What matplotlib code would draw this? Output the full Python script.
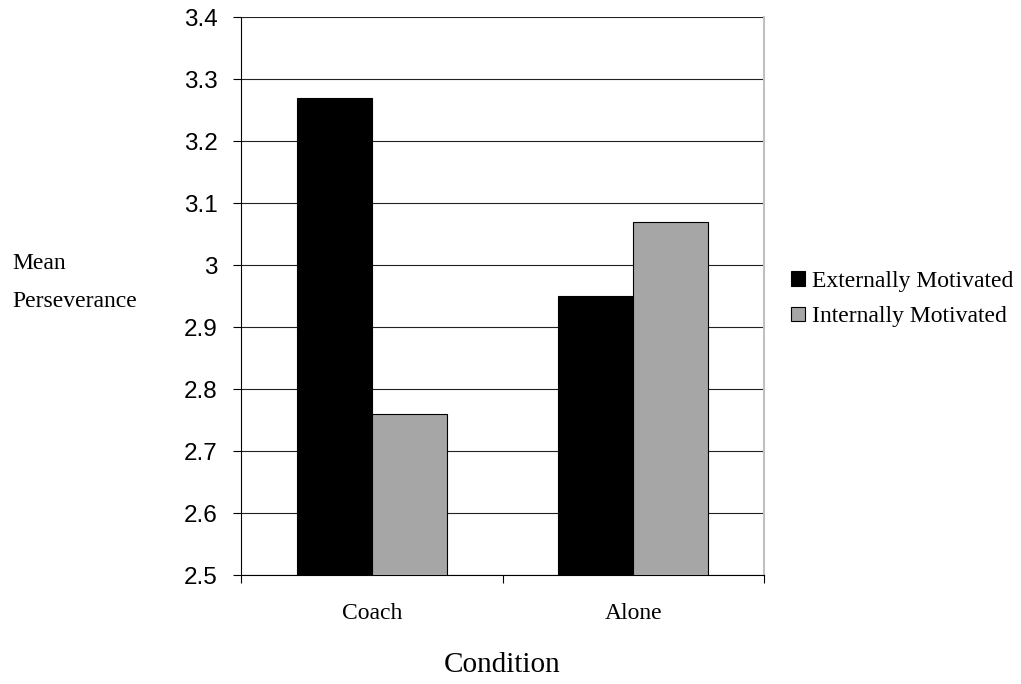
import numpy as np
import matplotlib.pyplot as plt

conditions = ['Coach', 'Alone']
external = [3.27, 2.95]
internal = [2.76, 3.07]
yticks = [2.5, 2.6, 2.7, 2.8, 2.9, 3.0, 3.1, 3.2, 3.3, 3.4]
ytick_labels = ['2.5', '2.6', '2.7', '2.8', '2.9', '3', '3.1', '3.2', '3.3', '3.4']

fig = plt.figure(figsize=(10.21, 6.84), dpi=100)
ax = fig.add_axes([241/1021, 1-575/684, 523/1021, 558/684])

x = np.arange(len(conditions)) + 0.5
w = 0.287
ax.bar(x - w/2, external, width=w, color='black', edgecolor='black',
       linewidth=0.8, label='Externally Motivated', zorder=3)
ax.bar(x + w/2, internal, width=w, color='#a6a6a6', edgecolor='black',
       linewidth=0.8, label='Internally Motivated', zorder=3)

ax.set_xlim(0, 2)
ax.set_ylim(2.5, 3.4)
ax.set_yticks(yticks)
ax.set_yticklabels(ytick_labels, fontfamily='Liberation Sans', fontsize=17.5)
ax.set_xticks([0, 1, 2])
ax.set_xticklabels([])
ax.set_xticks(x, minor=True)
ax.set_xticklabels(conditions, minor=True, fontfamily='Liberation Serif', fontsize=17)
ax.tick_params(axis='x', which='minor', length=0, pad=20)
ax.tick_params(axis='x', which='major', length=6, direction='out', width=0.8)
ax.tick_params(axis='y', length=6, direction='out', width=0.8, pad=11)

ax.grid(True, axis='y', color='#222222', linewidth=0.8, zorder=0)
ax.set_axisbelow(True)
ax.spines['top'].set_visible(False)
ax.spines['right'].set_color('#c0c0c0')
ax.spines['right'].set_linewidth(1.5)

fig.text(502/1021, 1-665/684, 'Condition', ha='center', va='center',
         fontfamily='Liberation Serif', fontsize=21)
fig.text(12/1021, 1-263/684, 'Mean', ha='left', va='center',
         fontfamily='Liberation Serif', fontsize=17)
fig.text(12/1021, 1-301/684, 'Perseverance', ha='left', va='center',
         fontfamily='Liberation Serif', fontsize=17)

fig.legend(loc='center left', bbox_to_anchor=(791/1021, 1-299/684), frameon=False,
           prop={'family': 'Liberation Serif', 'size': 17},
           handlelength=0.6, handleheight=0.6, handletextpad=0.3, labelspacing=0.62,
           borderpad=0, borderaxespad=0)

fig.savefig('out.png', dpi=100)
